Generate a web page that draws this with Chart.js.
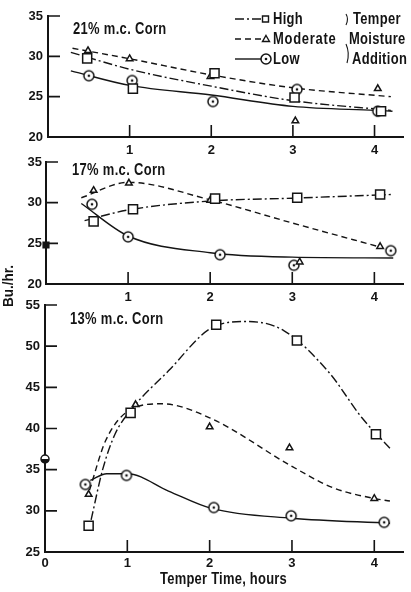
<!DOCTYPE html>
<html lang="en">
<head>
<meta charset="UTF-8">
<title>Bu./hr. vs Temper Time</title>
<script src="https://cdn.jsdelivr.net/npm/chart.js"></script>
<style>
    body { margin: 0; background: #fff; }
    #wrap {
        position: relative; width: 411px; height: 592px; overflow: hidden;
        font-family: "Liberation Sans", Arial, sans-serif;
        font-weight: bold; color: #141414;
    }
    #wrap canvas { position: absolute; left: 0; }
    /* the scan uses a condensed bold face, so squeeze the text a little */
    .t {
        position: absolute; white-space: nowrap; font-size: 16px; line-height: 16px;
        letter-spacing: 0.4px; transform: scaleX(0.81); transform-origin: left center;
    }
    .ylab {
        position: absolute; width: 60px; text-align: center; font-size: 15px; line-height: 16px;
        transform: rotate(-90deg) scaleX(0.9); transform-origin: center center;
    }
</style>
</head>
<body>
<div id="wrap">
    <canvas id="c21" style="top:0px"></canvas>
    <canvas id="c17" style="top:140px"></canvas>
    <canvas id="c13" style="top:290px"></canvas>

    <div class="t" style="left:73px;top:21px">21% m.c. Corn</div>
    <div class="t" style="left:72px;top:162px">17% m.c. Corn</div>
    <div class="t" style="left:70px;top:311px">13% m.c. Corn</div>

    <div class="t" style="left:273px;top:11px">High</div>
    <div class="t" style="left:273px;top:31px;letter-spacing:0.9px">Moderate</div>
    <div class="t" style="left:273px;top:51px">Low</div>
    <div class="t" style="left:353px;top:11px">Temper</div>
    <div class="t" style="left:349px;top:31px">Moisture</div>
    <div class="t" style="left:352px;top:51px">Addition</div>

    <div class="ylab" style="left:-22px;top:278px">Bu./hr.</div>
    <div class="t" style="left:160px;top:571px;letter-spacing:0.3px">Temper Time, hours</div>
</div>

<script>
    // ---- data (x = temper time, hours; y = Bu./hr.) ----
    const yTicksTop = [20, 25, 30, 35];
    const yTicksBottom = [25, 30, 35, 40, 45, 50, 55];
    const xTicks = [1, 2, 3, 4];
    const xTicksBottom = [0, 1, 2, 3, 4];

    // 21% m.c. corn
    const c21High = [[0.48, 29.75], [1.04, 26.0], [2.04, 27.9], [3.02, 24.9], [4.08, 23.2]];
    const c21Mod  = [[0.49, 30.7], [1.0, 29.7], [1.99, 27.5], [3.03, 22.0], [4.04, 26.0]];
    const c21Low  = [[0.5, 27.6], [1.03, 27.0], [2.02, 24.4], [3.05, 25.9], [4.04, 23.2]];
    const c21HighFit = [[0.28, 30.5], [1.0, 28.4], [2.0, 26.3], [3.0, 24.5], [4.2, 23.3]];
    const c21ModFit  = [[0.3, 31.0], [1.0, 29.7], [2.0, 27.7], [3.0, 26.1], [4.2, 25.0]];
    const c21LowFit  = [[0.28, 28.2], [1.0, 26.4], [2.0, 25.2], [3.0, 23.8], [4.0, 23.3], [4.22, 23.2]];

    // 17% m.c. corn
    const c17High = [[0.58, 27.7], [1.06, 29.2], [2.06, 30.5], [3.06, 30.6], [4.07, 31.0]];
    const c17Mod  = [[0.58, 31.5], [1.01, 32.4], [2.0, 30.3], [3.09, 22.7], [4.07, 24.6]];
    const c17Low  = [[0.56, 29.8], [1.0, 25.8], [2.12, 23.6], [3.02, 22.3], [4.2, 24.1]];
    const c17HighFit = [[0.47, 27.8], [1.0, 29.1], [2.0, 30.2], [3.0, 30.55], [4.2, 31.0]];
    const c17ModFit  = [[0.43, 30.6], [1.0, 32.5], [2.0, 30.35], [3.0, 27.5], [4.05, 24.6]];
    const c17LowFit  = [[0.43, 29.9], [1.0, 25.9], [2.0, 23.85], [3.0, 23.3], [4.23, 23.2]];
    const c17Control = [[0, 24.8]];

    // 13% m.c. corn
    const c13High = [[0.53, 28.2], [1.04, 41.9], [2.08, 52.6], [3.06, 50.7], [4.02, 39.3]];
    const c13Mod  = [[0.53, 32.0], [1.1, 42.9], [2.0, 40.2], [2.97, 37.65], [4.0, 31.5]];
    const c13Low  = [[0.49, 33.2], [0.99, 34.3], [2.05, 30.4], [2.99, 29.4], [4.12, 28.6]];
    const c13HighFit = [[0.56, 28.9], [0.7, 35.0], [0.85, 39.3], [1.04, 42.2], [1.5, 47.0], [2.02, 52.2],
                        [2.45, 53.0], [2.9, 51.9], [3.45, 46.8], [3.85, 41.3], [4.19, 37.6]];
    const c13ModFit  = [[0.54, 32.5], [0.74, 38.6], [1.06, 42.4], [1.42, 43.0], [2.0, 41.3], [3.0, 35.4],
                        [3.5, 32.8], [4.0, 31.5], [4.19, 31.2]];
    const c13LowFit  = [[0.55, 33.7], [0.75, 34.5], [1.0, 34.5], [1.5, 32.4], [2.02, 30.3], [3.0, 29.1], [4.19, 28.5]];
    const c13Control = [[0, 36.3]];

    const INK = "#141414";
    const HIGH_DASH = [9, 3, 2, 3];
    const MOD_DASH = [6, 4];
    const TICK_LEN = 12;

    Chart.defaults.font.family = '"Liberation Sans", Arial, sans-serif';
    Chart.defaults.font.weight = "bold";
    Chart.defaults.font.size = 13;
    Chart.defaults.color = INK;

    // circle with a dot in the middle, used for "Low"
    function ringDot(r) {
        const s = Math.ceil(r * 2 + 4);
        const c = document.createElement("canvas");
        c.width = c.height = s;
        const g = c.getContext("2d");
        g.lineWidth = 1.5;
        g.strokeStyle = INK;
        g.fillStyle = "#fff";
        g.beginPath(); g.arc(s / 2, s / 2, r, 0, Math.PI * 2); g.fill(); g.stroke();
        g.fillStyle = INK;
        g.beginPath(); g.arc(s / 2, s / 2, 1.3, 0, Math.PI * 2); g.fill();
        return c;
    }
    function halfDisc(r) {
        const s = Math.ceil(r * 2 + 4);
        const c = document.createElement("canvas");
        c.width = c.height = s;
        const g = c.getContext("2d");
        g.lineWidth = 1.5;
        g.strokeStyle = INK;
        g.fillStyle = "#fff";
        g.beginPath(); g.arc(s / 2, s / 2, r, 0, Math.PI * 2); g.fill();
        g.fillStyle = INK;
        g.beginPath(); g.arc(s / 2, s / 2, r, 0, Math.PI); g.fill();
        g.beginPath(); g.arc(s / 2, s / 2, r, 0, Math.PI * 2); g.stroke();
        return c;
    }
    const LOW_MARK = ringDot(5);

    const pts = a => a.map(p => ({ x: p[0], y: p[1] }));

    function fit(data, dash) {
        return { data: pts(data), showLine: true, borderColor: INK, borderWidth: 1.4, borderDash: dash,
                 pointRadius: 0, cubicInterpolationMode: "monotone", order: 2 };
    }
    function marks(data, style, r) {
        return { data: pts(data), showLine: false, pointStyle: style, pointRadius: r,
                 borderColor: INK, backgroundColor: "#fff", borderWidth: 1.5, order: 0, clip: false };
    }

    // tick marks drawn inward, like the original
    const innerTicks = {
        id: "innerTicks",
        afterDatasetsDraw(chart) {
            const { ctx, scales: { x, y } } = chart;
            ctx.save();
            ctx.strokeStyle = INK;
            ctx.lineWidth = 1.6;
            ctx.beginPath();
            x.ticks.forEach(t => {
                if (t.value === x.min) return;
                const px = x.getPixelForValue(t.value);
                ctx.moveTo(px, y.bottom);
                ctx.lineTo(px, y.bottom - TICK_LEN);
            });
            y.ticks.forEach(t => {
                if (t.value === y.min) return;
                const py = y.getPixelForValue(t.value);
                ctx.moveTo(x.left, py);
                ctx.lineTo(x.left + TICK_LEN, py);
            });
            ctx.stroke();
            ctx.restore();
        }
    };

    // line samples + markers for the legend (text is html)
    const legendSamples = {
        id: "legendSamples",
        afterDraw(chart) {
            const ctx = chart.ctx;
            const rows = [
                { y: 19, dash: HIGH_DASH, mark: "square" },
                { y: 39, dash: MOD_DASH, mark: "tri" },
                { y: 59, dash: [], mark: "ring" }
            ];
            ctx.save();
            ctx.strokeStyle = INK;
            ctx.fillStyle = "#fff";
            ctx.lineWidth = 1.4;
            rows.forEach(r => {
                ctx.setLineDash(r.dash);
                ctx.beginPath(); ctx.moveTo(235, r.y); ctx.lineTo(262, r.y); ctx.stroke();
                ctx.setLineDash([]);
                ctx.beginPath();
                if (r.mark === "square") {
                    ctx.rect(262.5, r.y - 3, 6, 6);
                } else if (r.mark === "tri") {
                    ctx.moveTo(266, r.y - 3.5); ctx.lineTo(269.5, r.y + 2.5); ctx.lineTo(262.5, r.y + 2.5); ctx.closePath();
                }
                if (r.mark === "ring") {
                    ctx.drawImage(LOW_MARK, 266 - LOW_MARK.width / 2, r.y - LOW_MARK.height / 2);
                } else {
                    ctx.fill(); ctx.stroke();
                }
            });
            // brackets in front of "Temper Moisture Addition"
            ctx.lineWidth = 1.1;
            ctx.beginPath();
            ctx.moveTo(346, 14); ctx.quadraticCurveTo(349, 19, 346, 25);
            ctx.moveTo(346, 44); ctx.quadraticCurveTo(350, 53, 347, 63);
            ctx.stroke();
            ctx.restore();
        }
    };

    function panel(id, cfg) {
        const el = document.getElementById(id);
        el.width = 411;
        el.height = cfg.height;
        return new Chart(el, {
            type: "scatter",
            data: { datasets: cfg.datasets },
            options: {
                responsive: false,
                animation: false,
                events: [],
                layout: { padding: { top: cfg.padTop, right: cfg.padRight, left: 0, bottom: 0 } },
                plugins: { legend: { display: false }, tooltip: { enabled: false } },
                scales: {
                    x: {
                        type: "linear", min: 0, max: 4.35,
                        grid: { display: false, drawTicks: false },
                        border: { display: true, color: INK, width: 2 },
                        ticks: { padding: cfg.xPad },
                        afterBuildTicks: s => { s.ticks = cfg.xTicks.map(v => ({ value: v })); },
                        afterFit: s => { s.height = cfg.xH; }
                    },
                    y: {
                        min: cfg.yMin, max: cfg.yMax,
                        grid: { display: false, drawTicks: false },
                        border: { display: true, color: INK, width: 2 },
                        ticks: { padding: cfg.yPad },
                        afterBuildTicks: s => { s.ticks = cfg.yTicks.map(v => ({ value: v })); },
                        afterFit: s => { s.width = cfg.leftW; }
                    }
                }
            },
            plugins: [innerTicks].concat(cfg.plugins || [])
        });
    }

    panel("c21", {
        height: 160, padTop: 16, padRight: 1, leftW: 48, xH: 23, xPad: 6, yPad: 5,
        yMin: 20, yMax: 35, yTicks: yTicksTop, xTicks: xTicks,
        datasets: [
            marks(c21High, "rect", 6.4), marks(c21Mod, "triangle", 3.8), marks(c21Low, LOW_MARK, 5),
            fit(c21HighFit, HIGH_DASH), fit(c21ModFit, MOD_DASH), fit(c21LowFit, [])
        ],
        plugins: [legendSamples]
    });

    panel("c17", {
        height: 167, padTop: 22, padRight: 3, leftW: 46, xH: 23, xPad: 6, yPad: 4,
        yMin: 20, yMax: 35, yTicks: yTicksTop, xTicks: xTicks,
        datasets: [
            marks(c17High, "rect", 6.4), marks(c17Mod, "triangle", 3.8), marks(c17Low, LOW_MARK, 5),
            Object.assign(marks(c17Control, "rect", 4), { backgroundColor: INK }),
            fit(c17HighFit, HIGH_DASH), fit(c17ModFit, MOD_DASH), fit(c17LowFit, [])
        ]
    });

    panel("c13", {
        height: 282, padTop: 15, padRight: 5, leftW: 45, xH: 20, xPad: 4, yPad: 5,
        yMin: 25, yMax: 55, yTicks: yTicksBottom, xTicks: xTicksBottom,
        datasets: [
            marks(c13High, "rect", 6.4), marks(c13Mod, "triangle", 3.8), marks(c13Low, LOW_MARK, 5),
            marks(c13Control, halfDisc(4), 4),
            fit(c13HighFit, HIGH_DASH), fit(c13ModFit, MOD_DASH), fit(c13LowFit, [])
        ]
    });
</script>
</body>
</html>
